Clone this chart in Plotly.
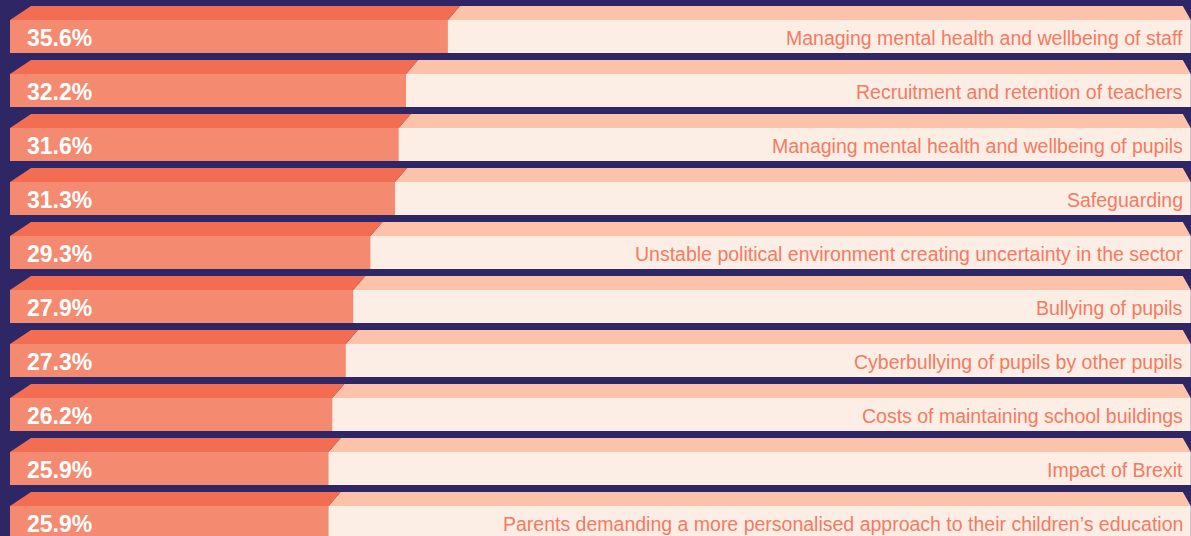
import plotly.graph_objects as go

# survey answers, top to bottom
labels = [
    'Managing mental health and wellbeing of staff',
    'Recruitment and retention of teachers',
    'Managing mental health and wellbeing of pupils',
    'Safeguarding',
    'Unstable political environment creating uncertainty in the sector',
    'Bullying of pupils',
    'Cyberbullying of pupils by other pupils',
    'Costs of maintaining school buildings',
    'Impact of Brexit',
    "Parents demanding a more personalised approach to their children\u2019s education",
]
values = [35.6, 32.2, 31.6, 31.3, 29.3, 27.9, 27.3, 26.2, 25.9, 25.9]

NAVY = '#2e2665'
ORANGE_FACE = '#f48b70'
ORANGE_TOP = '#f26d52'
CREAM_FACE = '#fdeee5'
CREAM_TOP = '#fcc3aa'
LABEL_COL = '#f47a62'

TRACK = 96.0          # end of the cream track (x units)
FACE_H = 0.611        # front face height (row units)
TOP_H = 0.259         # top strip height
SLANT_L = 1.71        # left bevel of the top strip
SLANT_MID = 0.98      # bevel at orange/cream boundary
SLANT_R = 0.65        # right bevel

rows = list(range(len(values)))

fig = go.Figure()

# front faces: cream track, then orange value bar on top
fig.add_trace(go.Bar(
    y=rows, x=[TRACK] * len(rows), orientation='h', width=FACE_H,
    marker=dict(color=CREAM_FACE, line=dict(width=0)), hoverinfo='skip'
))
fig.add_trace(go.Bar(
    y=rows, x=values, orientation='h', width=FACE_H,
    marker=dict(color=ORANGE_FACE, line=dict(width=0)), hoverinfo='skip'
))

# top strips as filled polygons built from the values
ox, oy, cx, cy = [], [], [], []
for i, v in zip(rows, values):
    bot = i - FACE_H / 2
    top = bot - TOP_H
    ox += [SLANT_L, v + SLANT_MID, v, 0, SLANT_L, None]
    oy += [top, top, bot, bot, top, None]
    cx += [v + SLANT_MID, TRACK - SLANT_R, TRACK, v, v + SLANT_MID, None]
    cy += [top, top, bot, bot, top, None]

fig.add_trace(go.Scatter(x=cx, y=cy, mode='lines', fill='toself', fillcolor=CREAM_TOP,
                         line=dict(width=0), hoverinfo='skip'))
fig.add_trace(go.Scatter(x=ox, y=oy, mode='lines', fill='toself', fillcolor=ORANGE_TOP,
                         line=dict(width=0), hoverinfo='skip'))

for i, v, lab in zip(rows, values, labels):
    fig.add_annotation(x=1.22, y=i + 0.02, text=f'<b>{v:.1f}%</b>', showarrow=False,
                       xanchor='left', yanchor='middle',
                       font=dict(family='Liberation Sans, Arial', size=23, color='white'))
    fig.add_annotation(x=95.55, y=i + 0.02, text=lab, showarrow=False,
                       xanchor='right', yanchor='middle',
                       font=dict(family='Liberation Sans, Arial', size=19.5, color=LABEL_COL))

fig.update_layout(
    width=1191, height=536,
    margin=dict(l=0, r=0, t=0, b=0),
    paper_bgcolor=NAVY, plot_bgcolor=NAVY,
    barmode='overlay', showlegend=False,
    xaxis=dict(range=[-10 / 12.3, 1181 / 12.3], visible=False, fixedrange=True),
    yaxis=dict(range=[-0.676 + 536 / 54, -0.676], visible=False, fixedrange=True),
)

# drop the page margin so the figure sits in the window corner
fig.write_html('out.html', config={'displayModeBar': False},
               post_script="document.body.style.margin='0';document.body.style.overflow='hidden';")
